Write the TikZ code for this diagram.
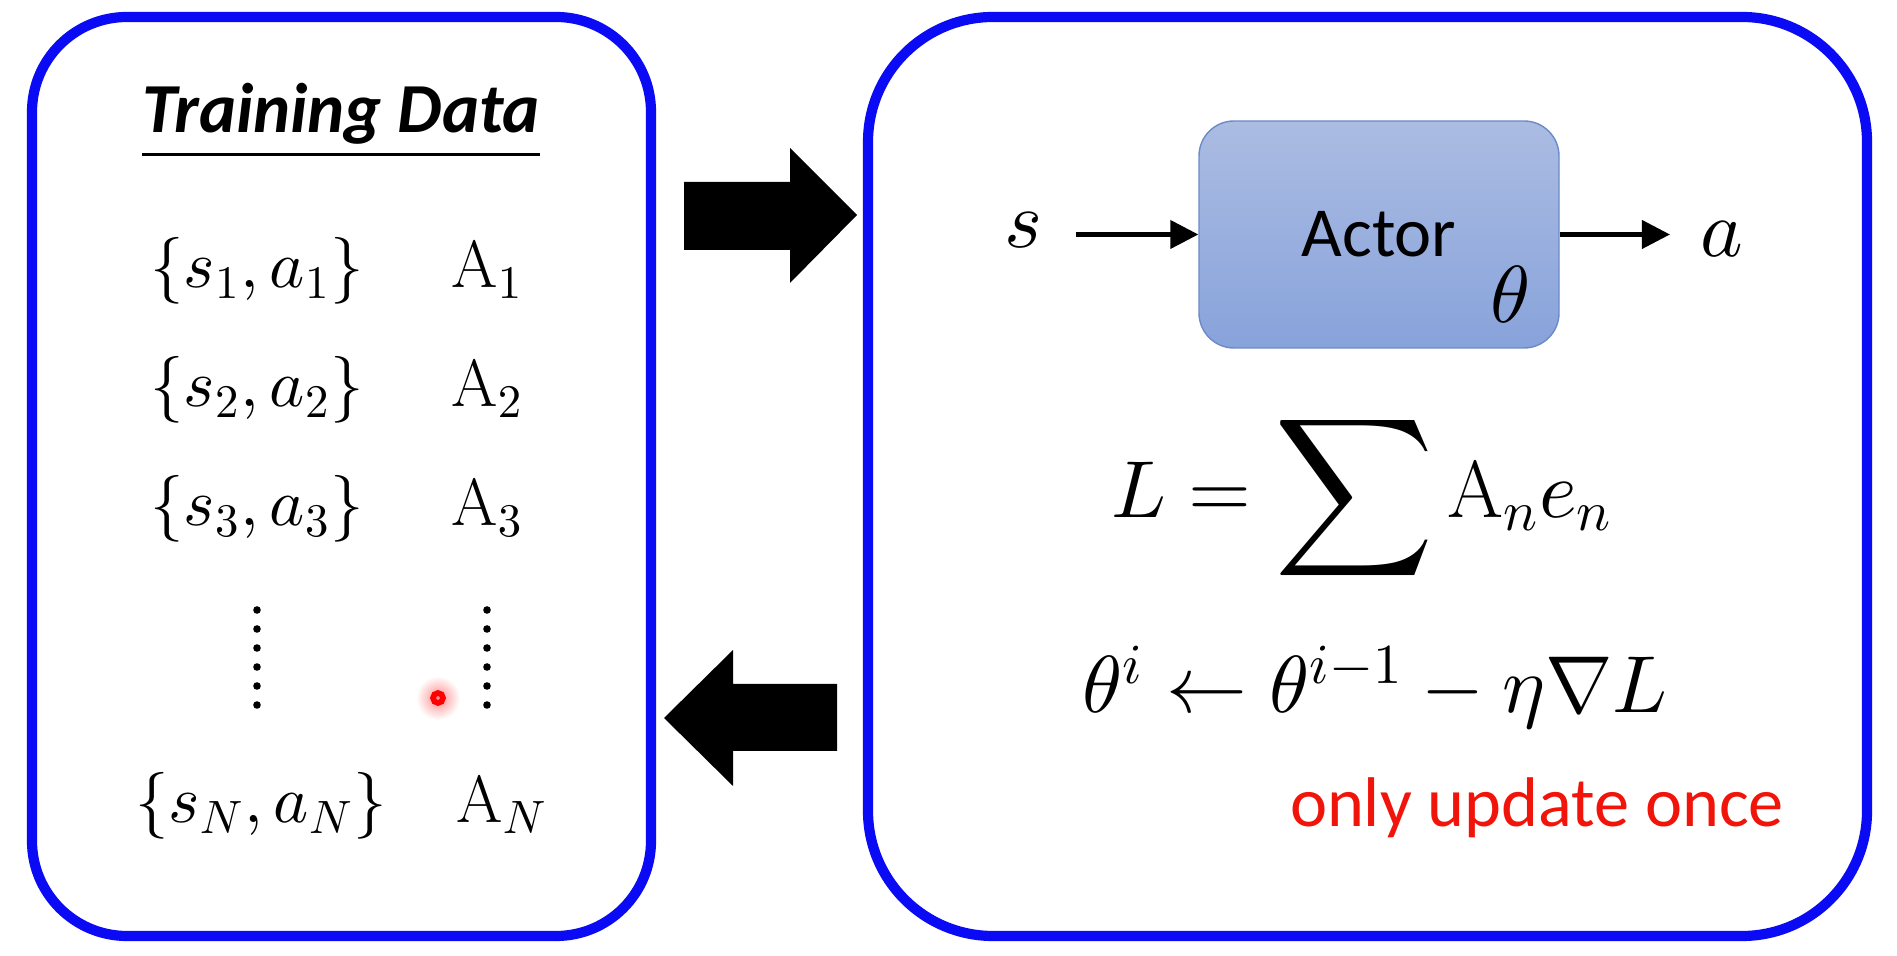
\documentclass[tikz,border=0pt]{standalone}
\usepackage{fontspec}
\usepackage{amsmath}
\usepackage{graphicx}
\DeclareFontShape{OML}{cmm}{m}{it}{<->cmmi10}{\skewchar\font'177}
\DeclareFontShape{OMS}{cmsy}{m}{n}{<->cmsy10}{\skewchar\font'60}
\DeclareFontShape{OMX}{cmex}{m}{n}{<->cmex10}{}
\DeclareFontShape{OT1}{cmr}{m}{n}{<->cmr10}{}
\newfontfamily\calibri{Carlito}
\usetikzlibrary{arrows.meta}
\definecolor{panelblue}{RGB}{10,10,245}
\definecolor{actortop}{RGB}{171,188,226}
\definecolor{actorbot}{RGB}{136,163,219}
\definecolor{actoredge}{RGB}{108,138,200}
\definecolor{notered}{RGB}{240,20,10}

\begin{document}
\begin{tikzpicture}[
  panel/.style={draw=panelblue, line width=2.9pt},
  datum/.style={inner sep=0pt, anchor=base, font=\fontsize{19}{23}\selectfont},
  adv/.style={inner sep=0pt, anchor=base west, font=\fontsize{19}{23}\selectfont},
  eqn/.style={inner sep=0pt, anchor=base, font=\fontsize{23}{28}\selectfont},
  flow/.style={line width=1.2pt, -{Triangle[length=0.28cm, width=0.28cm]}},
  actorbox/.style={draw=actoredge, top color=actortop, bottom color=actorbot, rounded corners=0.35cm,
    minimum width=3.6cm, minimum height=2.27cm, font=\calibri\fontsize{20}{24}\selectfont}
]
%%%%%%%%%%%%%%%%%%%%%%%%%%%%%%%%%%%%%%%%%%% HELP LINES
%\draw[help lines] (0,0) grid +(19,10);
\useasboundingbox (0,0) rectangle (18.97,9.56);

%%%%%%%%%%%%%%%%%%%%%%%%%%%%%%%%%%%%%%%%%%% panels
\draw[panel, rounded corners=0.95cm] (0.32,0.20) rectangle (6.51,9.39);
\draw[panel, rounded corners=1.25cm] (8.68,0.20) rectangle (18.67,9.39);

%%%%% block arrows
\fill (6.84,7.74) -- (7.90,7.74) -- (7.90,8.08) -- (8.57,7.41) -- (7.90,6.73) -- (7.90,7.06) -- (6.84,7.06) -- cycle;
\fill (8.37,2.72) -- (7.33,2.72) -- (7.33,3.06) -- (6.64,2.38) -- (7.33,1.70) -- (7.33,2.05) -- (8.37,2.05) -- cycle;

%%%%%%%%%%%%%%%%%%%%%%%%%%%%%%%%%%%%%%%%%%% training data
\node[inner sep=0pt, anchor=base, font=\calibri\bfseries\itshape\fontsize{20}{24}\selectfont](title) at (3.41,8.23) {\underline{Training Data}};

\node[datum](pair1) at (2.57,6.68) {$\{s_1,a_1\}$};
\node[adv](adv1) at (4.51,6.68) {$\mathrm{A}_1$};
\node[datum](pair2) at (2.57,5.49) {$\{s_2,a_2\}$};
\node[adv](adv2) at (4.51,5.49) {$\mathrm{A}_2$};
\node[datum](pair3) at (2.57,4.30) {$\{s_3,a_3\}$};
\node[adv](adv3) at (4.51,4.30) {$\mathrm{A}_3$};
\node[datum](pairN) at (2.61,1.33) {$\{s_N,a_N\}$};
\node[adv](advN) at (4.56,1.33) {$\mathrm{A}_N$};

%%%%% vertical dots
\foreach \k in {0,...,5} {
  \fill (2.57,3.46-\k*0.19) circle (0.038);
  \fill (4.87,3.46-\k*0.19) circle (0.038);
}

%%%%% pointer
\shade[inner color=red!45, outer color=white] (4.38,2.58) circle (0.22);
\draw[red, line width=1.6pt] (4.38,2.58) circle (0.05);

%%%%%%%%%%%%%%%%%%%%%%%%%%%%%%%%%%%%%%%%%%% actor
\node[actorbox](actor) at (13.79,7.215) {Actor};
\node[inner sep=0pt, font=\fontsize{23}{28}\selectfont](theta) at (15.11,6.62) {$\theta$};
\node[inner sep=0pt, anchor=base, font=\fontsize{23}{28}\selectfont](s) at (10.23,7.08) {$s$};
\node[inner sep=0pt, anchor=base, font=\fontsize{23}{28}\selectfont](a) at (17.22,6.99) {$a$};
\draw[flow] ([xshift=0.33cm]s.east |- actor.west) -- (actor.west);
\draw[flow] (actor.east) -- ([xshift=-0.3cm]a.west |- actor.east);

%%%%% loss and update
\node[eqn](loss) at (13.62,4.38) {$L=\mathop{\vcenter{\hbox{\scalebox{1.37}{$\displaystyle\sum$}}}}\mathrm{A}_n e_n$};
\node[eqn](update) at (13.75,2.43) {$\theta^i\leftarrow\theta^{i-1}-\eta\nabla L$};
\node[inner sep=0pt, anchor=base, text=notered, font=\calibri\fontsize{20}{24}\selectfont](note) at (15.37,1.29) {only update once};
\end{tikzpicture}
\end{document}
